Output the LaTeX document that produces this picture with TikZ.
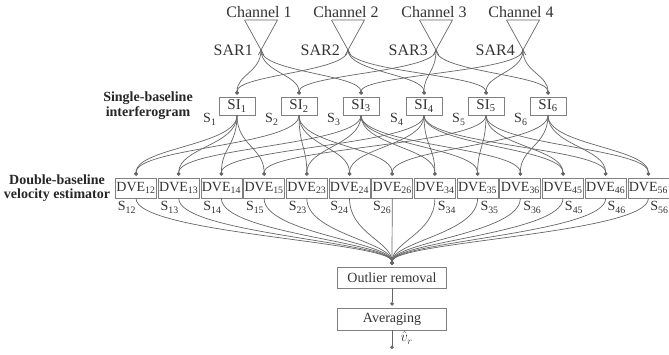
\documentclass[tikz,border=0pt]{standalone}
\usepackage{fontspec}
\setmainfont{Liberation Serif}
\usetikzlibrary{arrows.meta,calc}
\begin{document}
\begin{tikzpicture}[x=1pt,y=1pt,
  line/.style={draw=black!60, line width=0.7pt},
  conn/.style={line, -{Circle[length=3.5pt]}, shorten >=2pt},
  boxbase/.style={draw=black!50, line width=0.8pt, inner sep=0pt, text=black!80},
  sibox/.style={boxbase, minimum width=36pt, minimum height=18pt, font=\fontsize{15}{15}\selectfont},
  dvebox/.style={boxbase, minimum width=41pt, minimum height=20pt, font=\fontsize{14}{14}\selectfont},
  procbox/.style={boxbase, minimum width=109pt, minimum height=21pt, font=\fontsize{14}{14}\selectfont},
  chan/.style={font=\fontsize{16}{16}\selectfont, text=black!80, inner sep=0pt},
  slab/.style={font=\fontsize{14}{14}\selectfont, text=black!80, inner sep=1pt},
  side/.style={font=\bfseries\fontsize{14}{14}\selectfont, align=center, text=black!85, inner sep=0pt}
]
\useasboundingbox (0,0) rectangle (669,-354);

% antennas
\foreach \i/\x in {1/261,2/348,3/436,4/523}{
  \coordinate (ant\i) at (\x,-50);
  \draw[line] (\x-16.5,-20) -- (\x+16.5,-20) -- (\x-2.75,-55);
  \draw[line] (\x-16.5,-20) -- (\x+2.75,-55);
  \node[chan] (ch\i) at (\x-2,-12) {Channel \i};
  \node[chan, anchor=east] (sar\i) at (\x-8,-50) {SAR\i};
}

% side labels
\node[side] (lsi) at (148,-106) {Single-baseline\\[1pt]interferogram};
\node[side] (ldve) at (57,-188) {Double-baseline\\velocity estimator};

% SI boxes
\foreach \i/\x in {1/237,2/299,3/361,4/424,5/486,6/548}{
  \node[sibox, label={[slab, anchor=north east, yshift=3pt, xshift=-1pt]south west:S\textsubscript{\i}}] (si\i) at (\x,-106) {SI\textsubscript{\i}};
}

% DVE boxes
\foreach \p/\k/\dx in {12/0/-9,13/1/-9,14/2/-9,15/3/-9,23/4/-9,24/5/-10,26/6/-10,34/7/12,35/8/12,36/9/12,45/10/11,46/11/11,56/12/11}{
  \node[dvebox, label={[slab, anchor=north, xshift=\dx pt, yshift=-2pt]south:S\textsubscript{\p}}] (dve\p) at ({136+42.7*\k},-188) {DVE\textsubscript{\p}};
}

% processing boxes
\node[procbox] (outl) at (392,-277.5) {Outlier removal};
\node[procbox, minimum height=22pt] (avg) at (392,-319) {Averaging};
\coordinate (vout) at (392,-351);

% SAR -> SI
\foreach \a/\s in {1/1,1/2,1/3,2/1,2/4,2/5,3/2,3/4,3/6,4/3,4/5,4/6}{
  \draw[conn] (ant\a) .. controls +(0,-22) and +(0,22) .. (si\s.north);
}

% SI -> DVE
\foreach \a/\b in {1/2,1/3,1/4,1/5,2/3,2/4,2/6,3/4,3/5,3/6,4/5,4/6,5/6}{
  \draw[conn] (si\a.south) .. controls +(0,-30) and +(0,30) .. (dve\a\b.north);
  \draw[conn] (si\b.south) .. controls +(0,-30) and +(0,30) .. (dve\a\b.north);
}

% DVE -> outlier removal
\foreach \p in {12,13,14,15,23,24,26,34,35,36,45,46,56}{
  \draw[conn] (dve\p.south) .. controls +(0,-35) and +(0,25) .. (outl.north);
}

\draw[conn] (outl.south) -- (avg.north);
\draw[conn] (avg.south) -- (vout);
\node[font=\fontsize{14}{14}\selectfont, text=black!80, anchor=west] (vr) at (397,-338) {$\hat{v}_r$};
\end{tikzpicture}
\end{document}
